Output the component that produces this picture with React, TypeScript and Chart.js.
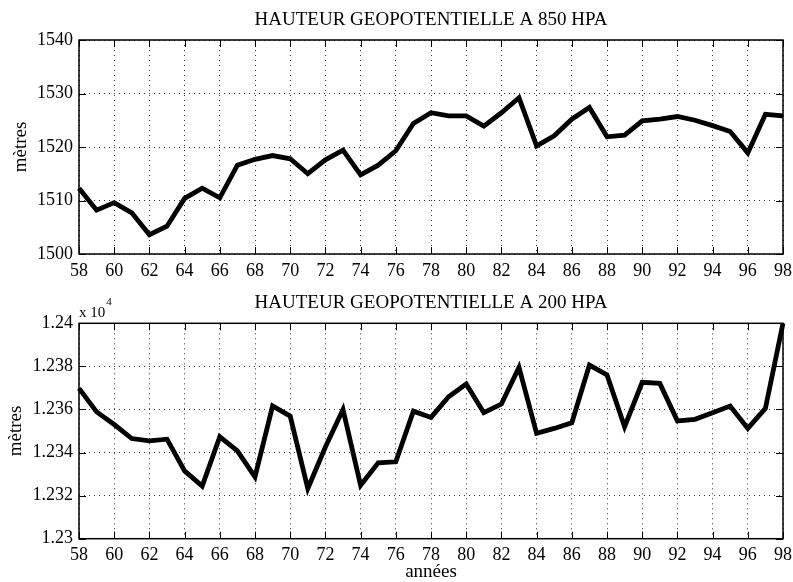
import React, { useEffect, useRef } from 'react';
import { Chart, registerables } from 'chart.js';

Chart.register(...registerables);

// ---------- data ----------
const years = [
  58, 59, 60, 61, 62, 63, 64, 65, 66, 67, 68, 69, 70, 71, 72, 73, 74, 75, 76, 77,
  78, 79, 80, 81, 82, 83, 84, 85, 86, 87, 88, 89, 90, 91, 92, 93, 94, 95, 96, 97, 98,
];

const geo850 = [
  1512.3, 1508.2, 1509.6, 1507.7, 1503.6, 1505.2, 1510.4, 1512.3, 1510.5, 1516.6,
  1517.7, 1518.4, 1517.8, 1515.0, 1517.6, 1519.4, 1514.8, 1516.6, 1519.3, 1524.4,
  1526.4, 1525.8, 1525.8, 1523.9, 1526.4, 1529.2, 1520.2, 1522.1, 1525.2, 1527.4,
  1521.9, 1522.2, 1524.9, 1525.2, 1525.7, 1525.0, 1524.0, 1522.9, 1518.9, 1526.1,
  1525.8,
];

const geo200 = [
  12369.8, 12358.9, 12353.0, 12346.5, 12345.4, 12346.2, 12331.5, 12324.4, 12347.3, 12340.8,
  12328.7, 12361.6, 12356.9, 12323.3, 12342.6, 12360.0, 12324.8, 12335.2, 12335.7, 12359.2,
  12356.3, 12365.9, 12371.8, 12358.5, 12362.5, 12379.5, 12348.9, 12351.2, 12353.8, 12380.6,
  12376.0, 12352.0, 12372.6, 12372.1, 12354.7, 12355.4, 12358.5, 12361.6, 12351.2, 12360.5,
  12400.0,
];

const xTicks = [58, 60, 62, 64, 66, 68, 70, 72, 74, 76, 78, 80, 82, 84, 86, 88, 90, 92, 94, 96, 98];
const yTicks850 = [1500, 1510, 1520, 1530, 1540];
const yTicks200 = [12300, 12320, 12340, 12360, 12380, 12400];
const yTickLabels200 = ['1.23', '1.232', '1.234', '1.236', '1.238', '1.24'];

const title850 = 'HAUTEUR GEOPOTENTIELLE A 850 HPA';
const title200 = 'HAUTEUR GEOPOTENTIELLE A 200 HPA';
const yLabel = 'mètres';
const xLabel = 'années';
const exponentBase = 'x 10';
const exponentPower = '4';

const FONT = "'Liberation Serif', 'Times New Roman', Times, serif";

// ---------- plugins ----------
const boxPlugin = {
  id: 'matlabBox',
  afterDatasetsDraw(chart: any) {
    const { ctx, chartArea } = chart;
    const { left, right, top, bottom } = chartArea;
    const xs = chart.scales.x;
    const ys = chart.scales.y;
    const L = 7;
    ctx.save();
    ctx.strokeStyle = '#000';
    ctx.lineWidth = 1;
    ctx.beginPath();
    xs.ticks.forEach((t: any) => {
      const px = Math.round(xs.getPixelForValue(t.value)) + 0.5;
      ctx.moveTo(px, bottom);
      ctx.lineTo(px, bottom - L);
      ctx.moveTo(px, top);
      ctx.lineTo(px, top + L);
    });
    ys.ticks.forEach((t: any) => {
      const py = Math.round(ys.getPixelForValue(t.value)) + 0.5;
      ctx.moveTo(left, py);
      ctx.lineTo(left + L, py);
      ctx.moveTo(right, py);
      ctx.lineTo(right - L, py);
    });
    ctx.stroke();
    ctx.lineWidth = 1.5;
    ctx.strokeRect(left, top, right - left, bottom - top);
    ctx.restore();
  },
};

// Title centred over the plot area (as MATLAB does), plus the "x 10^4" exponent
const annotPlugin = {
  id: 'annot',
  afterDraw(chart: any) {
    const opts = chart.options.plugins.annot;
    if (!opts) return;
    const { ctx, chartArea } = chart;
    ctx.save();
    ctx.fillStyle = '#000';
    ctx.textBaseline = 'alphabetic';
    ctx.textAlign = 'center';
    ctx.font = `19px ${FONT}`;
    ctx.fillText(opts.title, (chartArea.left + chartArea.right) / 2, chartArea.top - 15.5);
    if (opts.exponent) {
      ctx.textAlign = 'left';
      ctx.font = `15px ${FONT}`;
      ctx.fillText(exponentBase, chartArea.left, chartArea.top - 6);
      const w = ctx.measureText(exponentBase).width;
      ctx.font = `11px ${FONT}`;
      ctx.fillText(exponentPower, chartArea.left + w + 1, chartArea.top - 18);
    }
    ctx.restore();
  },
};

// ---------- chart factory ----------
function makeConfig(p: {
  values: number[];
  title: string;
  topPad: number;
  yMin: number;
  yMax: number;
  yTicks: number[];
  yLabels?: string[];
  yTitlePad: number;
  xHeight: number;
  showXTitle: boolean;
  showExponent: boolean;
}) {
  const tickFont = { family: FONT, size: 18, weight: 'normal' as const };
  const labelFont = { family: FONT, size: 19, weight: 'normal' as const };
  return {
    type: 'line' as const,
    data: {
      datasets: [
        {
          data: years.map((yr, i) => ({ x: yr, y: p.values[i] })),
          borderColor: '#000',
          backgroundColor: '#000',
          borderWidth: 4.8,
          pointRadius: 0,
          tension: 0,
          fill: false,
          borderJoinStyle: 'miter' as const,
          borderCapStyle: 'butt' as const,
          clip: false as const,
        },
      ],
    },
    options: {
      responsive: false,
      maintainAspectRatio: false,
      animation: false as const,
      layout: { padding: { left: 0, right: 10, top: p.topPad, bottom: 0 } },
      plugins: {
        legend: { display: false },
        tooltip: { enabled: false },
        title: { display: false },
        annot: { title: p.title, exponent: p.showExponent },
      } as any,
      scales: {
        x: {
          type: 'linear' as const,
          min: 58,
          max: 98,
          afterBuildTicks: (s: any) => {
            s.ticks = xTicks.map((v) => ({ value: v }));
          },
          afterFit: (s: any) => {
            s.height = p.xHeight;
            s.paddingLeft = 0;
            s.paddingRight = 0;
          },
          grid: { color: 'rgba(0,0,0,0.8)', lineWidth: 1, drawTicks: false },
          border: { display: false, dash: [1, 4] },
          ticks: {
            color: '#000',
            font: tickFont,
            padding: 6,
            maxRotation: 0,
            autoSkip: false,
            callback: (v: any) => String(v),
          },
          title: {
            display: p.showXTitle,
            text: xLabel,
            color: '#000',
            font: { ...labelFont, lineHeight: 1 },
            padding: { top: 0, bottom: 0 },
          },
        },
        y: {
          type: 'linear' as const,
          min: p.yMin,
          max: p.yMax,
          afterBuildTicks: (s: any) => {
            s.ticks = p.yTicks.map((v) => ({ value: v }));
          },
          afterFit: (s: any) => {
            s.width = 79;
            s.paddingTop = 0;
            s.paddingBottom = 0;
          },
          grid: { color: 'rgba(0,0,0,0.8)', lineWidth: 1, drawTicks: false },
          border: { display: false, dash: [1, 4] },
          ticks: {
            color: '#000',
            font: tickFont,
            padding: 6,
            autoSkip: false,
            callback: (v: any) => {
              if (p.yLabels) {
                const i = p.yTicks.indexOf(Number(v));
                return i >= 0 ? p.yLabels[i] : '';
              }
              return String(v);
            },
          },
          title: {
            display: true,
            text: yLabel,
            color: '#000',
            font: labelFont,
            padding: { top: p.yTitlePad, bottom: 0 },
          },
        },
      },
    },
    plugins: [boxPlugin, annotPlugin],
  };
}

export default function App() {
  const topRef = useRef<HTMLCanvasElement | null>(null);
  const botRef = useRef<HTMLCanvasElement | null>(null);

  useEffect(() => {
    if (!topRef.current || !botRef.current) return;
    const c1 = new Chart(
      topRef.current,
      makeConfig({
        values: geo850,
        title: title850,
        topPad: 40,
        yMin: 1500,
        yMax: 1540,
        yTicks: yTicks850,
        yTitlePad: 9.9,
        xHeight: 26,
        showXTitle: false,
        showExponent: false,
      }) as any
    );
    const c2 = new Chart(
      botRef.current,
      makeConfig({
        values: geo200,
        title: title200,
        topPad: 43.3,
        yMin: 12300,
        yMax: 12400,
        yTicks: yTicks200,
        yLabels: yTickLabels200,
        yTitlePad: 4.5,
        xHeight: 43.3,
        showXTitle: true,
        showExponent: true,
      }) as any
    );
    return () => {
      c1.destroy();
      c2.destroy();
    };
  }, []);

  return (
    <div
      style={{
        position: 'absolute',
        left: 0,
        top: 0,
        width: 793,
        height: 582,
        background: '#fff',
      }}
    >
      <canvas
        ref={topRef}
        width={793}
        height={280}
        style={{ position: 'absolute', left: 0, top: 0, width: 793, height: 280 }}
      />
      <canvas
        ref={botRef}
        width={793}
        height={302}
        style={{ position: 'absolute', left: 0, top: 280, width: 793, height: 302 }}
      />
    </div>
  );
}
